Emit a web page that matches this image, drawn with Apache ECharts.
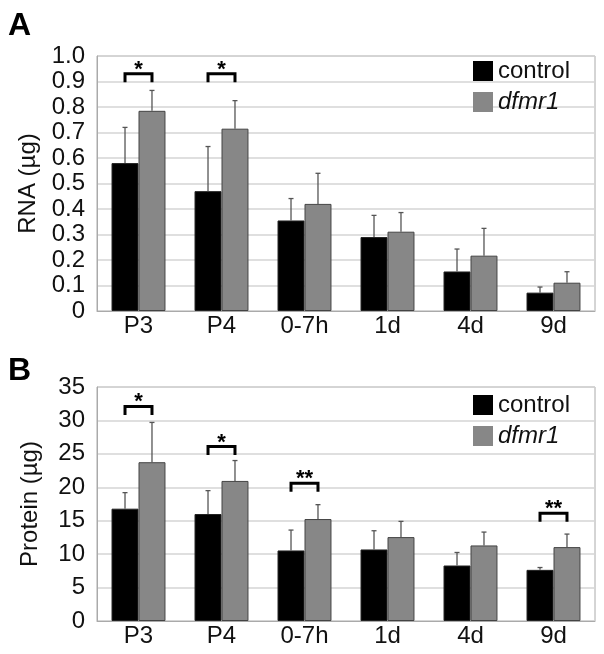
<!DOCTYPE html>
<html>
<head>
<meta charset="utf-8">
<script src="https://cdn.jsdelivr.net/npm/echarts@6/dist/echarts.min.js"></script>
<style>
  body { margin: 0; background: #fff; }
  #chart { width: 604px; height: 654px; }
</style>
</head>
<body>
<div id="chart"></div>
<script>
const categories = ['P3', 'P4', '0-7h', '1d', '4d', '9d']

// panel A: RNA (µg)
const rnaControl = [0.58, 0.47, 0.355, 0.29, 0.155, 0.072]
const rnaControlErr = [0.14, 0.175, 0.086, 0.085, 0.088, 0.022]
const rnaDfmr1 = [0.785, 0.715, 0.42, 0.311, 0.217, 0.111]
const rnaDfmr1Err = [0.08, 0.11, 0.12, 0.075, 0.107, 0.043]
const rnaTicks = ['0', '0.1', '0.2', '0.3', '0.4', '0.5', '0.6', '0.7', '0.8', '0.9', '1.0']
const rnaSigCats = ['P3', 'P4']
const rnaSigLevel = [0.93, 0.93]
const rnaSigMark = ['*', '*']

// panel B: Protein (µg)
const protControl = [16.8, 16.0, 10.55, 10.7, 8.3, 7.65]
const protControlErr = [2.4, 3.5, 3.05, 2.8, 1.95, 0.35]
const protDfmr1 = [23.75, 20.95, 15.25, 12.55, 11.3, 11.05]
const protDfmr1Err = [5.95, 3.05, 2.15, 2.35, 2.0, 1.95]
const protTicks = ['0', '5', '10', '15', '20', '25', '30', '35']
const protSigCats = ['P3', 'P4', '0-7h', '9d']
const protSigLevel = [32.1, 26.1, 20.6, 16.1]
const protSigMark = ['*', '*', '**', '**']

const FONT = 'Liberation Sans'
const GAP = 0.35

function barWidth(api) {
  return api.size([1, 0])[0] * (1 - GAP) / 2
}

function errSeries(name, means, errs, side, axisIdx) {
  return {
    type: 'custom',
    name: name + ' err',
    xAxisIndex: axisIdx,
    yAxisIndex: axisIdx,
    z: 3,
    data: means.map((m, i) => [i, m, m + errs[i]]),
    renderItem(params, api) {
      const bw = barWidth(api)
      const base = api.coord([api.value(0), api.value(1)])
      const top = api.coord([api.value(0), api.value(2)])
      const x = base[0] + side * bw / 2
      const style = { stroke: '#555', lineWidth: 1.3 }
      return {
        type: 'group',
        children: [
          { type: 'line', shape: { x1: x, y1: base[1], x2: x, y2: top[1] }, style },
          { type: 'line', shape: { x1: x - 2.5, y1: top[1], x2: x + 2.5, y2: top[1] }, style }
        ]
      }
    }
  }
}

function sigSeries(cats, levels, marks, axisIdx) {
  return {
    type: 'custom',
    xAxisIndex: axisIdx,
    yAxisIndex: axisIdx,
    z: 4,
    data: cats.map((c, i) => [categories.indexOf(c), levels[i]]),
    renderItem(params, api) {
      const bw = barWidth(api)
      const p = api.coord([api.value(0), api.value(1)])
      const x1 = p[0] - bw / 2
      const x2 = p[0] + bw / 2
      const y = p[1]
      return {
        type: 'group',
        children: [
          {
            type: 'polyline',
            shape: { points: [[x1, y + 8.5], [x1, y], [x2, y], [x2, y + 8.5]] },
            style: { stroke: '#000', lineWidth: 3, fill: null }
          },
          {
            type: 'text',
            x: p[0],
            y: y + 7,
            style: {
              text: marks[params.dataIndex],
              font: 'bold 22px "' + FONT + '"',
              fill: '#000',
              align: 'center',
              verticalAlign: 'bottom'
            }
          }
        ]
      }
    }
  }
}

function barSeries(name, data, color, border, axisIdx) {
  return {
    type: 'bar',
    name,
    xAxisIndex: axisIdx,
    yAxisIndex: axisIdx,
    data,
    barGap: '0%',
    barCategoryGap: (GAP * 100) + '%',
    itemStyle: { color, borderColor: border, borderWidth: 1 }
  }
}

function yAxis(idx, max, interval, ticks, name) {
  return {
    type: 'value',
    gridIndex: idx,
    min: 0,
    max,
    interval,
    name,
    nameLocation: 'middle',
    nameGap: 55,
    nameTextStyle: { fontFamily: FONT, fontSize: 24, color: '#111' },
    axisLine: { show: true, lineStyle: { color: '#aaa' } },
    axisTick: { show: false },
    axisLabel: {
      fontFamily: FONT, fontSize: 24, color: '#111', margin: 12,
      formatter: (v) => ticks[Math.round(v / interval)]
    },
    splitLine: { lineStyle: { color: '#d4d4d4', width: 1.5 } }
  }
}

function xAxis(idx) {
  return {
    type: 'category',
    gridIndex: idx,
    data: categories,
    axisLine: { lineStyle: { color: '#aaa' } },
    axisTick: { show: false },
    axisLabel: { fontFamily: FONT, fontSize: 24, color: '#111', margin: 3 }
  }
}

function legend(top) {
  return {
    orient: 'vertical',
    left: 473,
    top,
    padding: 0,
    itemWidth: 20,
    itemHeight: 20,
    itemGap: 7,
    icon: 'rect',
    itemStyle: { borderWidth: 0 },
    textStyle: { fontFamily: FONT, fontSize: 24, color: '#111' },
    data: [
      { name: 'control' },
      { name: 'dfmr1', textStyle: { fontStyle: 'italic' } }
    ]
  }
}

const chart = echarts.init(document.getElementById('chart'))
chart.setOption({
  animation: false,
  backgroundColor: '#fff',
  title: [
    { text: 'A', left: 3, top: 5, textStyle: { fontFamily: FONT, fontSize: 32, fontWeight: 'bold', color: '#000' } },
    { text: 'B', left: 3, top: 350, textStyle: { fontFamily: FONT, fontSize: 32, fontWeight: 'bold', color: '#000' } }
  ],
  legend: [legend(59), legend(393)],
  grid: [
    { left: 97, right: 9, top: 56, bottom: 343, show: true, borderColor: '#aaa', borderWidth: 1 },
    { left: 97, right: 9, top: 387, bottom: 33, show: true, borderColor: '#aaa', borderWidth: 1 }
  ],
  xAxis: [xAxis(0), xAxis(1)],
  yAxis: [
    yAxis(0, 1.0, 0.1, rnaTicks, 'RNA (µg)'),
    yAxis(1, 35, 5, protTicks, 'Protein (µg)')
  ],
  series: [
    barSeries('control', rnaControl, '#000', '#222', 0),
    barSeries('dfmr1', rnaDfmr1, '#878787', '#444', 0),
    errSeries('control', rnaControl, rnaControlErr, -1, 0),
    errSeries('dfmr1', rnaDfmr1, rnaDfmr1Err, 1, 0),
    sigSeries(rnaSigCats, rnaSigLevel, rnaSigMark, 0),
    barSeries('control', protControl, '#000', '#222', 1),
    barSeries('dfmr1', protDfmr1, '#878787', '#444', 1),
    errSeries('control', protControl, protControlErr, -1, 1),
    errSeries('dfmr1', protDfmr1, protDfmr1Err, 1, 1),
    sigSeries(protSigCats, protSigLevel, protSigMark, 1)
  ]
})
</script>
</body>
</html>
